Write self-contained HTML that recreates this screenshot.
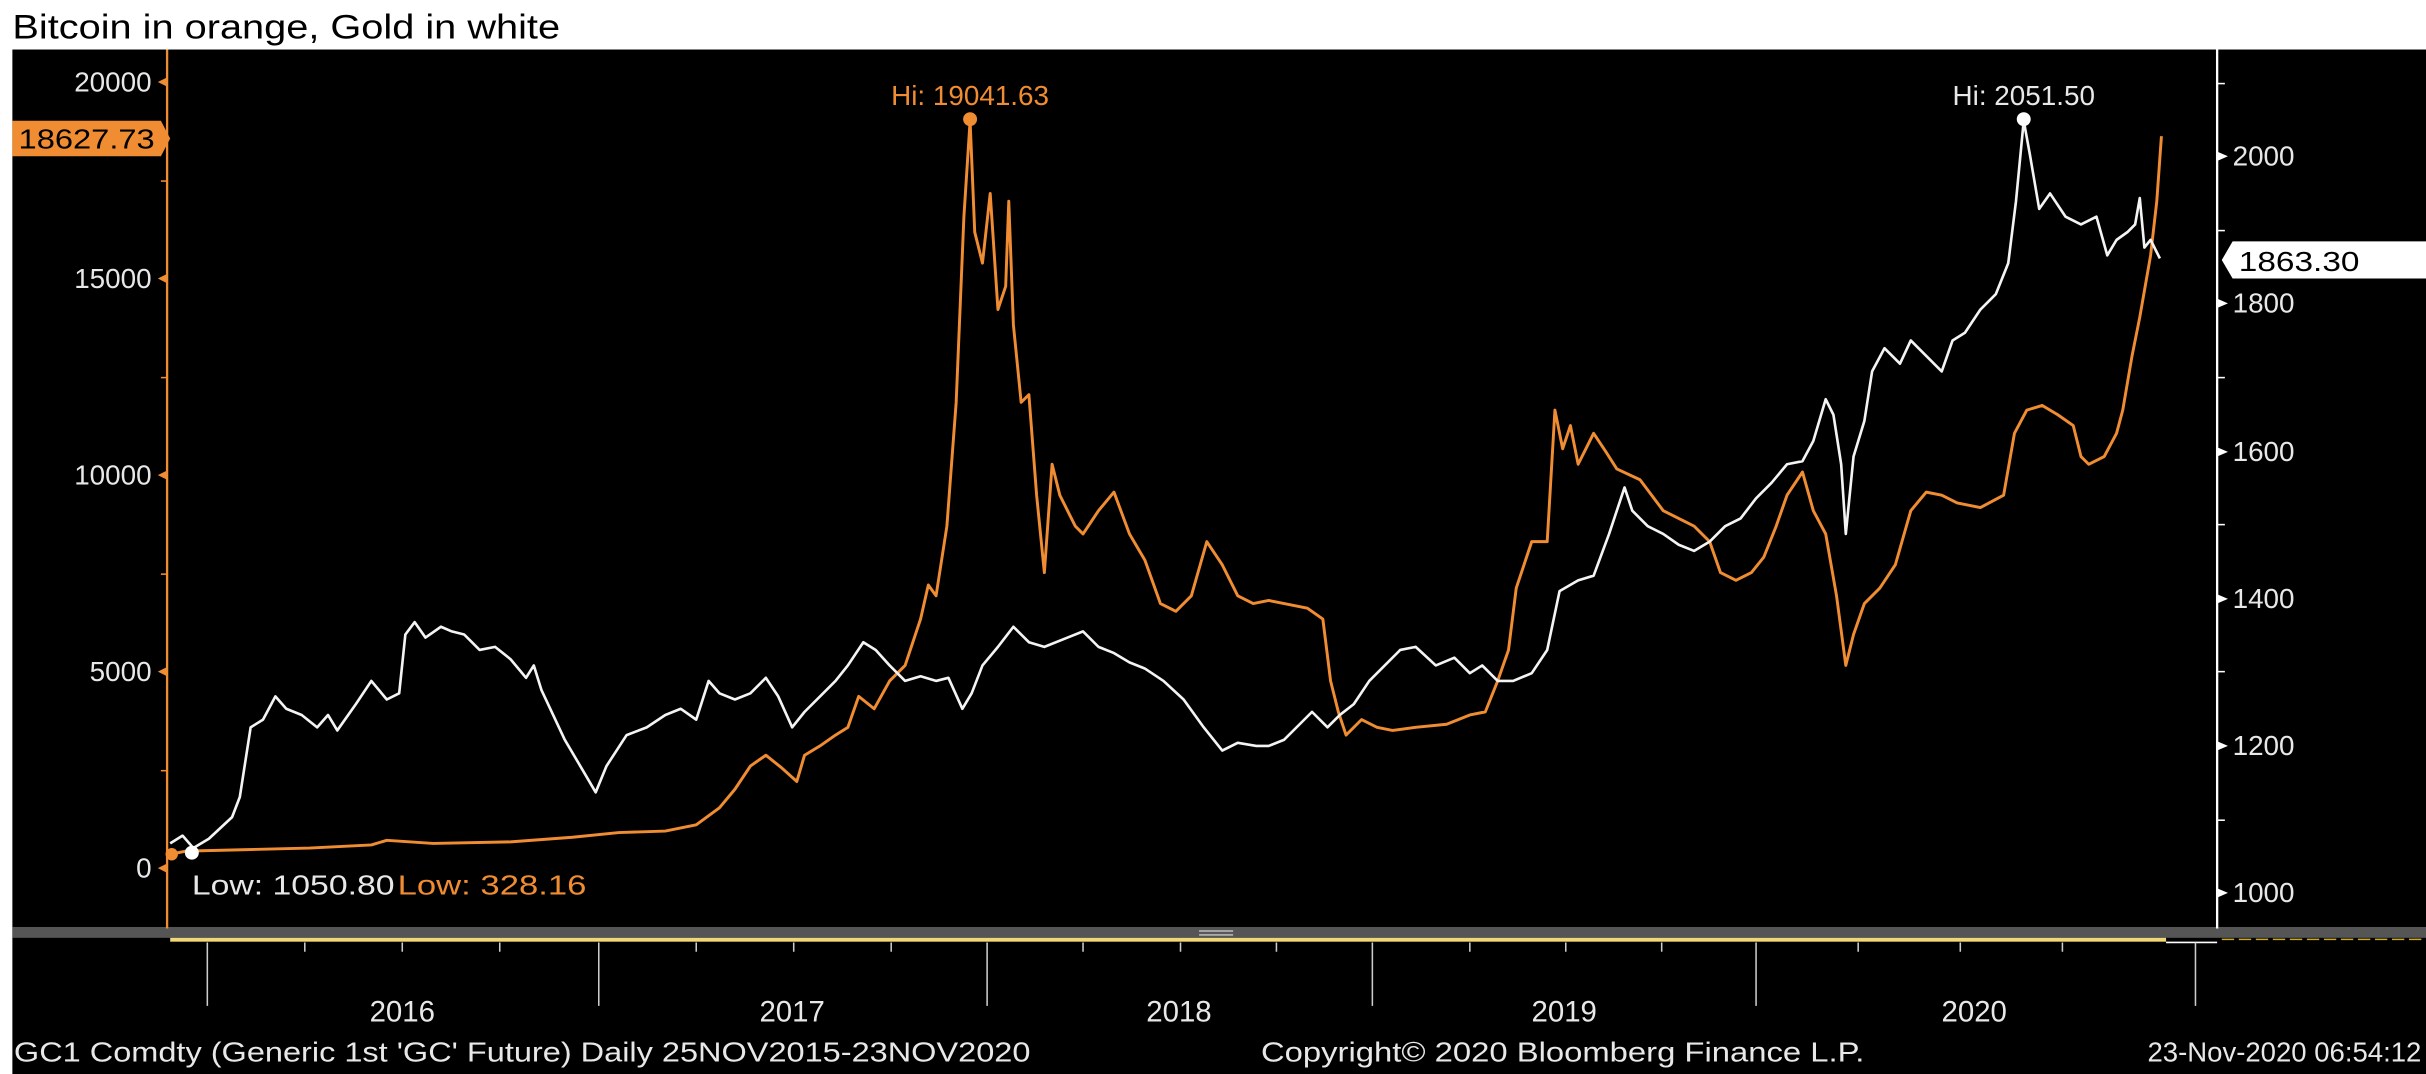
<!DOCTYPE html>
<html><head><meta charset="utf-8"><style>
html,body{margin:0;padding:0;background:#fff;}
svg{display:block;}
text{font-family:"Liberation Sans",sans-serif;}
</style></head><body>
<svg width="2426" height="1074" viewBox="0 0 1568 694" preserveAspectRatio="none" xmlns="http://www.w3.org/2000/svg">
<rect x="0" y="0" width="1568" height="694" fill="#fff"/>
<text x="8" y="25" font-size="22" fill="#000" textLength="354" lengthAdjust="spacingAndGlyphs">Bitcoin in orange, Gold in white</text>
<rect x="8" y="32" width="1560" height="662" fill="#000"/>
<rect x="8" y="599" width="1560" height="7" fill="#555"/>
<rect x="775" y="601" width="22" height="1.2" fill="#aaa"/><rect x="775" y="603.5" width="22" height="1.2" fill="#aaa"/>
<rect x="110" y="606" width="1290" height="2.5" fill="#f0d878"/>
<line x1="1400" y1="609" x2="1433" y2="609" stroke="#fff" stroke-width="1"/>
<line x1="1436" y1="607" x2="1568" y2="607" stroke="#c8a830" stroke-width="1" stroke-dasharray="8,3"/>
<g stroke="#ccc" stroke-width="1">
<line x1="134" y1="609" x2="134" y2="650"/><line x1="387" y1="609" x2="387" y2="650"/><line x1="638" y1="609" x2="638" y2="650"/><line x1="887" y1="609" x2="887" y2="650"/><line x1="1135" y1="609" x2="1135" y2="650"/><line x1="1419" y1="609" x2="1419" y2="650"/>
<line x1="197" y1="609" x2="197" y2="615"/><line x1="260" y1="609" x2="260" y2="615"/><line x1="323" y1="609" x2="323" y2="615"/>
<line x1="450" y1="609" x2="450" y2="615"/><line x1="513" y1="609" x2="513" y2="615"/><line x1="576" y1="609" x2="576" y2="615"/>
<line x1="700" y1="609" x2="700" y2="615"/><line x1="763" y1="609" x2="763" y2="615"/><line x1="825" y1="609" x2="825" y2="615"/>
<line x1="950" y1="609" x2="950" y2="615"/><line x1="1012" y1="609" x2="1012" y2="615"/><line x1="1074" y1="609" x2="1074" y2="615"/>
<line x1="1201" y1="609" x2="1201" y2="615"/><line x1="1267" y1="609" x2="1267" y2="615"/><line x1="1333" y1="609" x2="1333" y2="615"/>
</g>
<g fill="#e8e8e8" font-size="19" text-anchor="middle">
<text x="260" y="660">2016</text><text x="512" y="660">2017</text><text x="762" y="660">2018</text><text x="1011" y="660">2019</text><text x="1276" y="660">2020</text>
</g>
<g fill="#e8e8e8" font-size="18">
<text x="9" y="686" textLength="657" lengthAdjust="spacingAndGlyphs">GC1 Comdty (Generic 1st 'GC' Future)  Daily 25NOV2015-23NOV2020</text>
<text x="815" y="686" textLength="390" lengthAdjust="spacingAndGlyphs">Copyright© 2020 Bloomberg Finance L.P.</text>
<text x="1388" y="686" textLength="177" lengthAdjust="spacingAndGlyphs">23-Nov-2020 06:54:12</text>
</g>
<line x1="108" y1="32" x2="108" y2="600" stroke="#f08c32" stroke-width="1.5"/>
<g fill="#f08c32">
<polygon points="102,53 108,50 108,56"/><polygon points="102,180 108,177 108,183"/><polygon points="102,307 108,304 108,310"/><polygon points="102,434 108,431 108,437"/><polygon points="102,561 108,558 108,564"/>
</g>
<g stroke="#f08c32" stroke-width="1"><line x1="104" y1="117" x2="108" y2="117"/><line x1="104" y1="244" x2="108" y2="244"/><line x1="104" y1="371" x2="108" y2="371"/><line x1="104" y1="498" x2="108" y2="498"/></g>
<g fill="#e8e8e8" font-size="18" text-anchor="end">
<text x="98" y="59">20000</text><text x="98" y="186">15000</text><text x="98" y="313">10000</text><text x="98" y="440">5000</text><text x="98" y="567">0</text>
</g>
<polygon points="8,78 104,78 110,89.5 104,101 8,101" fill="#f08c32"/>
<text x="12" y="96" font-size="18" fill="#000" textLength="88" lengthAdjust="spacingAndGlyphs">18627.73</text>
<line x1="1433" y1="32" x2="1433" y2="600" stroke="#fff" stroke-width="1.5"/>
<g fill="#fff">
<polygon points="1440,101 1433,98 1433,104"/><polygon points="1440,196 1433,193 1433,199"/><polygon points="1440,292 1433,289 1433,295"/><polygon points="1440,387 1433,384 1433,390"/><polygon points="1440,482 1433,479 1433,485"/><polygon points="1440,577 1433,574 1433,580"/>
</g>
<g stroke="#fff" stroke-width="1"><line x1="1433" y1="54" x2="1438" y2="54"/><line x1="1433" y1="149" x2="1438" y2="149"/><line x1="1433" y1="244" x2="1438" y2="244"/><line x1="1433" y1="339" x2="1438" y2="339"/><line x1="1433" y1="434" x2="1438" y2="434"/><line x1="1433" y1="530" x2="1438" y2="530"/></g>
<g fill="#e8e8e8" font-size="18">
<text x="1443" y="107">2000</text><text x="1443" y="202">1800</text><text x="1443" y="298">1600</text><text x="1443" y="393">1400</text><text x="1443" y="488">1200</text><text x="1443" y="583">1000</text>
</g>
<polygon points="1436,168 1443,156 1568,156 1568,180 1443,180" fill="#fff"/>
<text x="1447" y="175" font-size="18" fill="#000" textLength="78" lengthAdjust="spacingAndGlyphs">1863.30</text>
<polyline fill="none" stroke="#f08c32" stroke-width="1.9" stroke-linejoin="round" points="110,552 120,550 160,549 200,548 240,546 250,543 280,545 330,544 370,541 400,538 430,537 450,533 465,522 475,510 485,495 495,488 505,496 515,505 520,488 530,482 540,475 548,470 555,450 565,458 575,440 585,430 595,400 600,378 605,385 612,340 618,260 623,140 627,78 630,150 635,170 640,125 645,200 650,185 652,130 655,210 660,260 665,255 670,320 675,370 680,300 685,320 690,330 695,340 700,345 710,330 720,318 730,345 740,362 750,390 760,395 770,385 780,350 790,365 800,385 810,390 820,388 830,390 845,393 855,400 860,440 865,460 870,475 880,465 890,470 900,472 915,470 935,468 950,462 960,460 968,440 975,420 980,380 990,350 1000,350 1005,265 1010,290 1015,275 1020,300 1025,290 1030,280 1038,292 1045,303 1060,310 1075,330 1085,335 1095,340 1105,350 1112,370 1122,375 1132,370 1140,360 1148,340 1155,320 1165,305 1172,330 1180,345 1187,385 1193,430 1198,410 1205,390 1215,380 1225,365 1235,330 1245,318 1255,320 1265,325 1280,328 1295,320 1302,280 1310,265 1320,262 1330,268 1340,275 1345,295 1350,300 1360,295 1368,280 1372,265 1378,230 1383,205 1390,165 1394,130 1397,88"/>
<polyline fill="none" stroke="#f4f4f4" stroke-width="1.7" stroke-linejoin="round" points="110,545 118,540 125,548 135,542 150,528 155,515 162,470 170,465 178,450 185,458 195,462 205,470 212,462 218,472 230,455 240,440 250,452 258,448 262,410 268,402 275,412 285,405 292,408 300,410 310,420 320,418 330,426 340,438 345,430 350,446 365,478 378,500 385,512 392,495 405,475 418,470 430,462 440,458 450,465 458,440 465,448 475,452 485,448 495,438 503,450 512,470 520,460 530,450 540,440 548,430 558,415 566,420 575,430 585,440 595,437 605,440 613,438 622,458 628,448 635,430 645,418 655,405 665,415 675,418 690,412 700,408 710,418 720,422 730,428 740,432 752,440 765,452 778,470 790,485 800,480 812,482 820,482 830,478 840,468 848,460 858,470 866,462 875,455 885,440 895,430 905,420 915,418 928,430 940,425 950,435 958,430 968,440 978,440 990,435 1000,420 1008,382 1020,375 1030,372 1040,345 1050,315 1055,330 1065,340 1075,345 1085,352 1095,356 1105,350 1115,340 1125,335 1135,322 1145,312 1155,300 1165,298 1172,285 1180,258 1185,268 1190,300 1193,345 1198,295 1205,272 1210,240 1218,225 1228,235 1235,220 1245,230 1255,240 1262,220 1270,215 1280,200 1290,190 1298,170 1303,130 1308,78 1312,100 1318,135 1325,125 1335,140 1345,145 1355,140 1362,165 1368,155 1375,150 1380,145 1383,128 1386,160 1390,155 1396,167"/>
<circle cx="627" cy="77" r="4.5" fill="#f08c32"/>
<text x="627" y="68" font-size="18" fill="#f08c32" text-anchor="middle">Hi: 19041.63</text>
<circle cx="1308" cy="77" r="4.5" fill="#fff"/>
<text x="1308" y="68" font-size="18" fill="#e8e8e8" text-anchor="middle">Hi: 2051.50</text>
<circle cx="111" cy="552" r="4" fill="#f08c32"/>
<circle cx="124" cy="551" r="4.5" fill="#fff"/>
<text x="124" y="578" font-size="18" fill="#e8e8e8" textLength="131" lengthAdjust="spacingAndGlyphs">Low: 1050.80</text>
<text x="257" y="578" font-size="18" fill="#f08c32" textLength="122" lengthAdjust="spacingAndGlyphs">Low: 328.16</text>
</svg>
</body></html>
